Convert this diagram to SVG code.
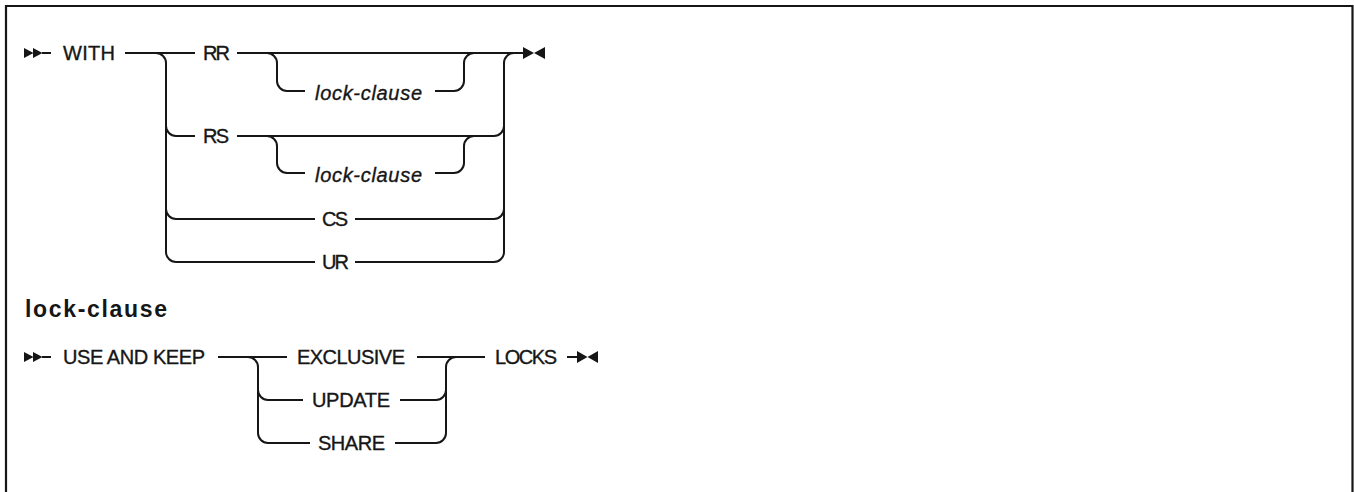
<svg xmlns="http://www.w3.org/2000/svg" width="1354" height="492" viewBox="0 0 1354 492">
<style>
.ln{fill:none;stroke:#161616;stroke-width:2}
.mk{fill:#161616;stroke:none}
.t{font-family:"Liberation Sans",Arial,sans-serif;font-size:20px;fill:#161616;stroke:#161616;stroke-width:0.35}
.it{font-family:"Liberation Sans",Arial,sans-serif;font-size:20px;font-style:italic;fill:#161616;stroke:#161616;stroke-width:0.35}
.hd{font-family:"Liberation Sans",Arial,sans-serif;font-size:23px;font-weight:bold;fill:#161616}
</style>
<rect x="0" y="0" width="1354" height="492" fill="#ffffff"/>
<path d="M6,493 V6 H1352.5 V493" fill="none" stroke="#161616" stroke-width="2.2"/>
<g id="connectors">
<path class="ln" d="M42,53 H51"/>
<path class="ln" d="M125,53 H195"/>
<path class="ln" d="M237,53 H523"/>
<path class="ln" d="M156,53 A10,10 0 0 1 166,63 V252 A10,10 0 0 0 176,262 H315"/>
<path class="ln" d="M166,126 A10,10 0 0 0 176,136 H195"/>
<path class="ln" d="M166,209 A10,10 0 0 0 176,219 H315"/>
<path class="ln" d="M237,136 H494 A10,10 0 0 0 504,126"/>
<path class="ln" d="M355,219 H494 A10,10 0 0 0 504,209"/>
<path class="ln" d="M355,262 H494 A10,10 0 0 0 504,252 V63 A10,10 0 0 1 514,53"/>
<path class="ln" d="M267,53 A10,10 0 0 1 277,63 V81 A10,10 0 0 0 287,91 H305"/>
<path class="ln" d="M435,91 H454 A10,10 0 0 0 464,81 V63 A10,10 0 0 1 474,53"/>
<path class="ln" d="M267,136 A10,10 0 0 1 277,146 V163 A10,10 0 0 0 287,173 H305"/>
<path class="ln" d="M435,173 H454 A10,10 0 0 0 464,163 V146 A10,10 0 0 1 474,136"/>
<path class="ln" d="M42,357 H51"/>
<path class="ln" d="M218,357 H287"/>
<path class="ln" d="M248,357 A10,10 0 0 1 258,367 V433 A10,10 0 0 0 268,443 H310"/>
<path class="ln" d="M258,390 A10,10 0 0 0 268,400 H303"/>
<path class="ln" d="M417,357 H485"/>
<path class="ln" d="M400,400 H436 A10,10 0 0 0 446,390"/>
<path class="ln" d="M395,443 H436 A10,10 0 0 0 446,433 V367 A10,10 0 0 1 456,357"/>
<path class="ln" d="M567,357 H577"/>
</g>
<g id="start1"><path class="mk" d="M24,48 L33.5,53 L24,58 Z M33,48 L42.5,53 L33,58 Z"/></g>
<g id="with"><text class="t" x="63" y="60" textLength="52">WITH</text></g>
<g id="rr"><text class="t" x="203" y="60" textLength="27">RR</text></g>
<g id="lock1"><text class="it" x="368.5" y="99.5" text-anchor="middle" textLength="107">lock-clause</text></g>
<g id="rs"><text class="t" x="203" y="143" textLength="26">RS</text></g>
<g id="lock2"><text class="it" x="368.5" y="181.5" text-anchor="middle" textLength="107">lock-clause</text></g>
<g id="cs"><text class="t" x="335" y="226" text-anchor="middle" textLength="26">CS</text></g>
<g id="ur"><text class="t" x="335.5" y="269" text-anchor="middle" textLength="27">UR</text></g>
<g id="end1"><path class="mk" d="M523,47 L534,53 L523,59 Z M545,47 L534,53 L545,59 Z"/></g>
<g id="heading"><text class="hd" x="25" y="317" textLength="142">lock-clause</text></g>
<g id="start2"><path class="mk" d="M24,352 L33.5,357 L24,362 Z M33,352 L42.5,357 L33,362 Z"/></g>
<g id="usekeep"><text class="t" x="63" y="364" textLength="142">USE AND KEEP</text></g>
<g id="exclusive"><text class="t" x="351" y="364" text-anchor="middle" textLength="108">EXCLUSIVE</text></g>
<g id="update"><text class="t" x="351" y="407" text-anchor="middle" textLength="78">UPDATE</text></g>
<g id="share"><text class="t" x="351.5" y="450" text-anchor="middle" textLength="67">SHARE</text></g>
<g id="locks"><text class="t" x="526" y="364" text-anchor="middle" textLength="62">LOCKS</text></g>
<g id="end2"><path class="mk" d="M577,351 L587.5,357 L577,363 Z M598,351 L587.5,357 L598,363 Z"/></g>
</svg>
